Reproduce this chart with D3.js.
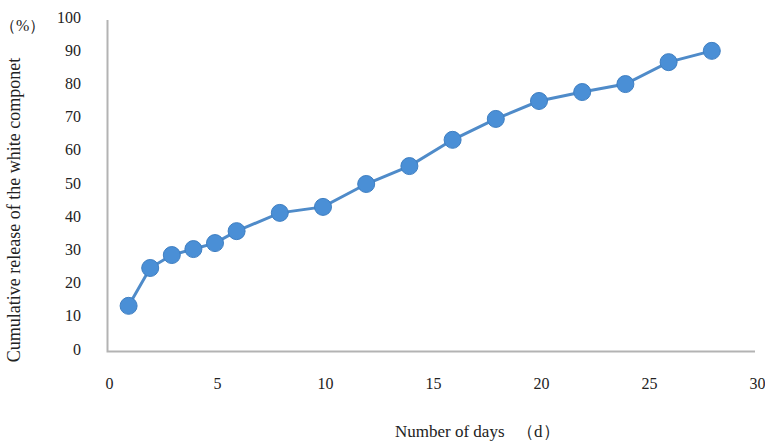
<!DOCTYPE html>
<html><head><meta charset="utf-8">
<script src="https://cdn.jsdelivr.net/npm/d3@7"></script>
<style>body{margin:0;background:#fff}svg{display:block}</style>
</head><body>
<script>
const days = [1,2,3,4,5,6,8,10,12,14,16,18,20,22,24,26,28];
const release = [13,24.4,28.3,30.1,31.9,35.5,41,42.8,49.7,55.1,63,69.3,74.7,77.4,79.8,86.4,89.8];
const xTicks = [0,5,10,15,20,25,30];
const yTicks = [0,10,20,30,40,50,60,70,80,90,100];
const yTitle = "Cumulative release of the white componet";
const xTitle = "Number of days";
const xUnit = "（d）";
const unitLabel = "（%）";

const W=765,H=444;
const svg=d3.select("body").append("svg").attr("width",W).attr("height",H);
const font="'Liberation Serif','Times New Roman',serif";
const x=d3.scaleLinear().domain([0,30]).range([107,755]);
const y=d3.scaleLinear().domain([0,100]).range([349,17]);

// frame
svg.append("path").attr("d","M107.5,20V351.5H755").attr("fill","none").attr("stroke","#b3b3b3").attr("stroke-width",2);

// y axis labels
const ya=svg.append("g").attr("transform","translate(81,0)")
  .call(d3.axisLeft(y).tickValues(yTicks).tickSize(0).tickPadding(0));
ya.select(".domain").remove();
ya.selectAll("text").attr("font-family",font).attr("font-size",16).attr("fill","#222");

// x axis labels
const xa=svg.append("g").attr("transform","translate(2,378)")
  .call(d3.axisBottom(x).tickValues(xTicks).tickSize(0).tickPadding(0));
xa.select(".domain").remove();
xa.selectAll("text").attr("font-family",font).attr("font-size",16).attr("fill","#222");

// titles
svg.append("text").attr("transform","translate(20,210) rotate(-90)").attr("text-anchor","middle")
  .attr("font-family",font).attr("font-size",18).attr("fill","#222").text(yTitle);
svg.append("text").attr("x",0).attr("y",31).attr("font-family",font).attr("font-size",16).attr("fill","#222").text(unitLabel);
svg.append("text").attr("x",395).attr("y",437).attr("font-family",font).attr("font-size",17).attr("fill","#222").text(xTitle);
svg.append("text").attr("x",517).attr("y",437).attr("font-family",font).attr("font-size",17).attr("fill","#222").text(xUnit);

// line
const data=days.map((d,i)=>({d,v:release[i]}));
svg.append("path").datum(data).attr("fill","none").attr("stroke","#4f8bc9").attr("stroke-width",3)
  .attr("d",d3.line().x(p=>x(p.d)).y(p=>y(p.v)));
svg.selectAll("circle").data(data).join("circle")
  .attr("cx",p=>x(p.d)).attr("cy",p=>y(p.v)).attr("r",8.5)
  .attr("fill","#4a8fd6").attr("stroke","#3f7fc2").attr("stroke-width",1);
</script>
</body></html>
